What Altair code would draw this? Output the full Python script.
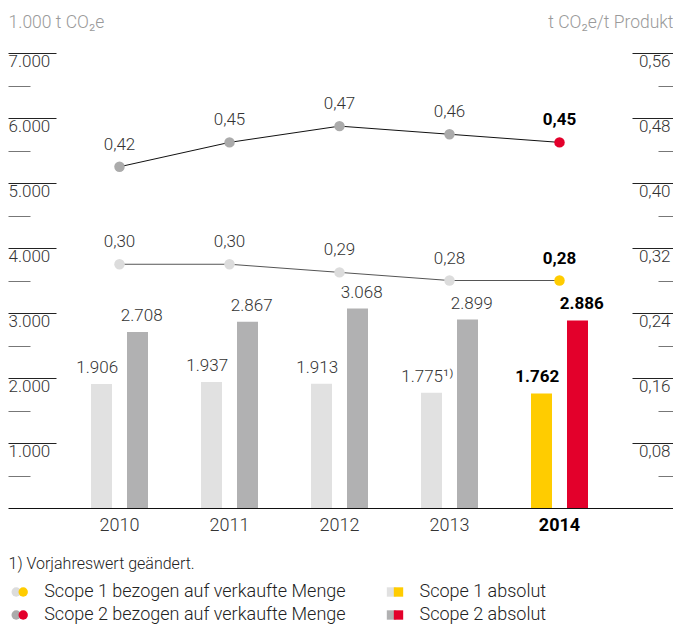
import altair as alt
import pandas as pd

# ---------------- data ----------------
years = ["2010", "2011", "2012", "2013", "2014"]
highlight_year = "2014"
scope1_abs = [1906, 1937, 1913, 1775, 1762]
scope2_abs = [2708, 2867, 3068, 2899, 2886]
scope1_notes = ["", "", "", "¹⁾", ""]
scope1_rel = [0.30, 0.30, 0.29, 0.28, 0.28]
scope2_rel = [0.42, 0.45, 0.47, 0.46, 0.45]

left_major = [1000, 2000, 3000, 4000, 5000, 6000, 7000]
left_minor = [500, 1500, 2500, 3500, 4500, 5500, 6500]
right_major = [0.08, 0.16, 0.24, 0.32, 0.40, 0.48, 0.56]
right_minor = [0.04, 0.12, 0.20, 0.28, 0.36, 0.44, 0.52]

left_title = "1.000 t CO₂e"
right_title = "t CO₂e/t Produkt"
footnote = "1) Vorjahreswert geändert."

legend_labels = [
    "Scope 1 bezogen auf verkaufte Menge",
    "Scope 2 bezogen auf verkaufte Menge",
    "Scope 1 absolut",
    "Scope 2 absolut",
]
legend_cols = ["rel", "rel", "abs", "abs"]
legend_rows = ["1", "2", "1", "2"]
legend_gray = ["P1", "P2", "B1", "B2"]
legend_accent = ["P1_hl", "P2_hl", "B1_hl", "B2_hl"]

# ---------------- tables ----------------
bar_rows = []
for i, y in enumerate(years):
    hl = "_hl" if y == highlight_year else ""
    bar_rows.append({"year": y, "series": "S1", "value": scope1_abs[i],
                     "note": scope1_notes[i], "key": "B1" + hl})
    bar_rows.append({"year": y, "series": "S2", "value": scope2_abs[i],
                     "note": "", "key": "B2" + hl})
bars_df = pd.DataFrame(bar_rows)

rel_rows = []
for i, y in enumerate(years):
    hl = "_hl" if y == highlight_year else ""
    rel_rows.append({"year": y, "series": "S1", "value": scope1_rel[i], "key": "P1" + hl})
    rel_rows.append({"year": y, "series": "S2", "value": scope2_rel[i], "key": "P2" + hl})
rel_df = pd.DataFrame(rel_rows)

legend_sym_rows = []
for i in range(len(legend_labels)):
    legend_sym_rows.append({"col": legend_cols[i], "row": legend_rows[i], "kind": "gray", "key": legend_gray[i]})
    legend_sym_rows.append({"col": legend_cols[i], "row": legend_rows[i], "kind": "accent", "key": legend_accent[i]})
legend_sym_df = pd.DataFrame(legend_sym_rows)
legend_txt_df = pd.DataFrame({"label": legend_labels, "col": legend_cols, "row": legend_rows})

# ---------------- geometry / styles ----------------
FONT = "Roboto"
W, H = 665, 619          # whole chart (autosize none, padding 0) -> fits the 681x641 page
BASE = 500               # pixel row of the zero line inside the chart
PX_PER_1000 = 65.0
YMAX = BASE / PX_PER_1000 * 1000.0
YMIN = -(H - BASE) / PX_PER_1000 * 1000.0
RATIO = 12500.0

color_domain = ["B1", "B1_hl", "B2", "B2_hl", "P1", "P1_hl", "P2", "P2_hl"]
color_range = ["#e1e1e1", "#ffcc00", "#b1b1b2", "#e3002b",
               "#dcdcdc", "#ffcc00", "#ababab", "#e3002b"]
color_scale = alt.Scale(domain=color_domain, range=color_range)

is_hl = f"datum.year == '{highlight_year}'"
not_hl = f"datum.year != '{highlight_year}'"

x_axis = alt.Axis(
    orient="bottom", offset=-(H - BASE),
    ticks=False, domain=True, domainColor="#111", domainWidth=1.2,
    labelAngle=0, labelFont=FONT, labelFontSize=18, labelPadding=8,
    labelFontWeight={"condition": {"test": f"datum.label == '{highlight_year}'", "value": "bold"}, "value": 300},
    labelColor={"condition": {"test": f"datum.label == '{highlight_year}'", "value": "#000"}, "value": "#333"},
    title=footnote, titleX=0, titleY=55, titleAlign="left", titleBaseline="middle", titleAngle=0,
    titleFont=FONT, titleFontSize=16, titleFontWeight=300, titleColor="#222",
)

def xe(axis):
    return alt.X("year:N", sort=years,
                 scale=alt.Scale(type="band", domain=years, paddingInner=0, paddingOuter=0.52273, align=0.4913),
                 axis=axis)

xoff = alt.XOffset("series:N", scale=alt.Scale(domain=["S1", "S2"], paddingInner=0.41667, paddingOuter=0.7361))

left_major_axis = alt.Axis(
    orient="right", offset=-W, values=left_major, format=",.0f",
    tickSize=48, tickColor="#222", tickWidth=1, domain=False, grid=False,
    labelAlign="left", labelBaseline="top", labelPadding=-48, labelOffset=0,
    labelFont=FONT, labelFontSize=17, labelFontWeight=300, labelColor="#333",
    labelFlush=False, labelOverlap=False,
    title=left_title, titleAngle=0, titleAlign="left", titleBaseline="middle",
    titleX=0, titleY=14, titleFont=FONT, titleFontSize=17.5, titleFontWeight=300, titleColor="#9a9a9a",
)
left_minor_axis = alt.Axis(
    orient="right", offset=-W, values=left_minor, tickSize=22, tickColor="#777", tickWidth=1,
    domain=False, grid=False, labels=False, title=None,
)
right_major_axis = alt.Axis(
    orient="left", offset=-W, values=right_major, format=".2f",
    tickSize=41, tickColor="#222", tickWidth=1, domain=False, grid=False,
    labelAlign="right", labelBaseline="top", labelPadding=-38, labelOffset=0,
    labelFont=FONT, labelFontSize=17, labelFontWeight=300, labelColor="#333",
    labelFlush=False, labelOverlap=False,
    title=right_title, titleAngle=0, titleAlign="right", titleBaseline="middle",
    titleX=0, titleY=14, titleFont=FONT, titleFontSize=17.5, titleFontWeight=300, titleColor="#9a9a9a",
)
right_minor_axis = alt.Axis(
    orient="left", offset=-W, values=right_minor, tickSize=15, tickColor="#777", tickWidth=1,
    domain=False, grid=False, labels=False, title=None,
)

def yl(axis):
    return alt.Y("value:Q", scale=alt.Scale(domain=[YMIN, YMAX], nice=False, zero=False), axis=axis)

def yr(axis):
    return alt.Y("value:Q", scale=alt.Scale(domain=[YMIN / RATIO, YMAX / RATIO], nice=False, zero=False), axis=axis)

bars = alt.Chart(bars_df).mark_bar().encode(
    x=xe(x_axis), xOffset=xoff, y=yl(left_major_axis), y2=alt.datum(0),
    color=alt.Color("key:N", scale=color_scale, legend=None),
)

bar_labels = alt.Chart(bars_df).transform_filter(not_hl).transform_calculate(
    label="format(datum.value, ',.0f') + datum.note"
).mark_text(baseline="bottom", dy=-7, font=FONT, fontSize=17, fontWeight=300, color="#333").encode(
    x=xe(None), xOffset=xoff, y=yl(left_minor_axis), text="label:N",
)
bar_labels_hl = alt.Chart(bars_df).transform_filter(is_hl).transform_calculate(
    label="format(datum.value, ',.0f') + datum.note"
).mark_text(baseline="bottom", dy=-7, font=FONT, fontSize=17, fontWeight="bold", color="#000").encode(
    x=xe(None), xOffset=xoff, y=yl(None), text="label:N",
)

line_s1 = alt.Chart(rel_df).transform_filter("datum.series == 'S1'").mark_line(
    strokeWidth=1, color="#555").encode(x=xe(None), y=yr(right_major_axis))
line_s2 = alt.Chart(rel_df).transform_filter("datum.series == 'S2'").mark_line(
    strokeWidth=1, color="#111").encode(x=xe(None), y=yr(None))

points = alt.Chart(rel_df).mark_circle(size=110, opacity=1).encode(
    x=xe(None), y=yr(right_minor_axis),
    color=alt.Color("key:N", scale=color_scale, legend=None),
)

point_labels = alt.Chart(rel_df).transform_filter(not_hl).mark_text(
    baseline="bottom", dy=-13, font=FONT, fontSize=17, fontWeight=300, color="#333").encode(
    x=xe(None), y=yr(None), text=alt.Text("value:Q", format=".2f"),
)
point_labels_hl = alt.Chart(rel_df).transform_filter(is_hl).mark_text(
    baseline="bottom", dy=-13, font=FONT, fontSize=17, fontWeight="bold", color="#000").encode(
    x=xe(None), y=yr(None), text=alt.Text("value:Q", format=".2f"),
)

# ---------------- legend (own scales) ----------------
lx = alt.X("col:N", scale=alt.Scale(type="point", domain=["rel", "abs"], range=[4.7, 380], padding=0), axis=None)
ly = alt.Y("row:N", scale=alt.Scale(type="point", domain=["1", "2"], range=[584, 607], padding=0), axis=None)
lxoff = alt.XOffset("kind:N", scale=alt.Scale(domain=["gray", "accent"], range=[0, 14]))
shape = alt.Shape("col:N", scale=alt.Scale(domain=["rel", "abs"], range=["circle", "square"]), legend=None)

leg_sym = alt.Chart(legend_sym_df).mark_point(filled=True, opacity=1, size=88).encode(
    x=lx, xOffset=lxoff, y=ly, shape=shape, color=alt.Color("key:N", scale=color_scale, legend=None))
leg_text = alt.Chart(legend_txt_df).mark_text(align="left", baseline="middle", dx=31.5, font=FONT,
                                              fontSize=18, fontWeight=300, color="#222").encode(
    x=lx, y=ly, text="label:N")

chart = alt.layer(
    bars, bar_labels, bar_labels_hl, line_s1, line_s2, points, point_labels, point_labels_hl,
    leg_sym, leg_text,
).resolve_scale(
    x="independent", y="independent", xOffset="independent",
).properties(
    width=W, height=H, padding=0, autosize=alt.AutoSizeParams(type="none"),
).configure(
    locale=alt.Locale(number=alt.NumberLocale(decimal=",", thousands=".", grouping=[3], currency=["", " €"])),
).configure_view(stroke=None)

chart.save("out.html", embed_options={"renderer": "svg", "actions": False})
